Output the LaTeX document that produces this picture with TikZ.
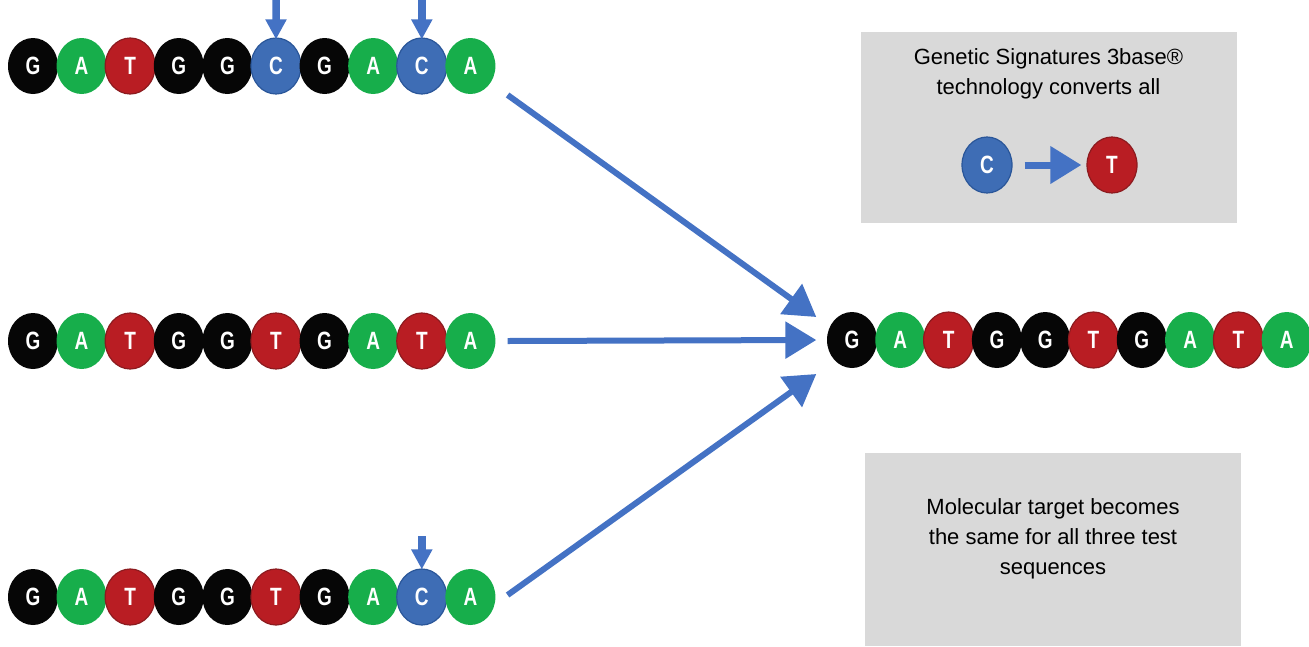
\documentclass[tikz,border=0pt]{standalone}
\usepackage{fontspec}
\setmainfont{Liberation Sans}
\newfontfamily\basefont{Liberation Sans Bold}[FakeStretch=0.76]
\usetikzlibrary{shapes.geometric,arrows.meta}

\definecolor{nblack}{HTML}{060606}
\definecolor{ngreen}{HTML}{17AE4B}
\definecolor{nred}{HTML}{B91D23}
\definecolor{nredline}{HTML}{8C1B1F}
\definecolor{nblue}{HTML}{3E6DB5}
\definecolor{nblueline}{HTML}{2A5699}
\definecolor{arrowblue}{HTML}{4472C4}
\definecolor{panelgray}{HTML}{D9D9D9}

\begin{document}
\begin{tikzpicture}[
  nuc/.style={ellipse, minimum width=50pt, minimum height=56pt, inner sep=0pt,
    text=white, font=\basefont\fontsize{25}{25}\selectfont},
  nG/.style={nuc, fill=nblack},
  nA/.style={nuc, fill=ngreen},
  nT/.style={nuc, fill=nred, draw=nredline, line width=1.2pt},
  nC/.style={nuc, fill=nblue, draw=nblueline, line width=1.2pt},
  marker/.style={arrowblue, line width=7.5pt, -{Triangle[length=20pt,width=20pt]}},
  bigarrow/.style={arrowblue, line width=6pt, -{Triangle[length=31pt,width=36pt]}},
  panel/.style={fill=panelgray, inner sep=0pt},
  note/.style={align=center, font=\fontsize{22}{30}\selectfont}]
 \def\d{48.6}
 \def\e{48.3}

 \begin{scope} [x = {(1pt,0)},
   y = {(0,-1pt)}]

  \useasboundingbox (0,0) rectangle (1309,646);

  % grey panels
  \node[panel, minimum width=376, minimum height=191] (box1) at (1048.5,127.5) {};
  \node[panel, minimum width=376, minimum height=193] (box2) at (1053,549.5) {};

  \node[note] (txt1) at (1048.5,74) {Genetic Signatures 3base\textregistered\\technology converts all};
  \node[note] (txt2) at (1053,539) {Molecular target becomes\\the same for all three test\\sequences};

  % first test sequence
  \path node[nG] (a1) at (33,66) {G}
  node[nA] (a2) at (33+\d,66) {A}
  node[nT] (a3) at (33+2*\d,66) {T}
  node[nG] (a4) at (33+3*\d,66) {G}
  node[nG] (a5) at (33+4*\d,66) {G}
  node[nC] (a6) at (33+5*\d,66) {C}
  node[nG] (a7) at (33+6*\d,66) {G}
  node[nA] (a8) at (33+7*\d,66) {A}
  node[nC] (a9) at (33+8*\d,66) {C}
  node[nA] (a10) at (33+9*\d,66) {A};

  % second test sequence
  \path node[nG] (b1) at (33,341) {G}
  node[nA] (b2) at (33+\d,341) {A}
  node[nT] (b3) at (33+2*\d,341) {T}
  node[nG] (b4) at (33+3*\d,341) {G}
  node[nG] (b5) at (33+4*\d,341) {G}
  node[nT] (b6) at (33+5*\d,341) {T}
  node[nG] (b7) at (33+6*\d,341) {G}
  node[nA] (b8) at (33+7*\d,341) {A}
  node[nT] (b9) at (33+8*\d,341) {T}
  node[nA] (b10) at (33+9*\d,341) {A};

  % third test sequence
  \path node[nG] (c1) at (33,597) {G}
  node[nA] (c2) at (33+\d,597) {A}
  node[nT] (c3) at (33+2*\d,597) {T}
  node[nG] (c4) at (33+3*\d,597) {G}
  node[nG] (c5) at (33+4*\d,597) {G}
  node[nT] (c6) at (33+5*\d,597) {T}
  node[nG] (c7) at (33+6*\d,597) {G}
  node[nA] (c8) at (33+7*\d,597) {A}
  node[nC] (c9) at (33+8*\d,597) {C}
  node[nA] (c10) at (33+9*\d,597) {A};

  % converted target
  \path node[nG] (t1) at (852,340) {G}
  node[nA] (t2) at (852+\e,340) {A}
  node[nT] (t3) at (852+2*\e,340) {T}
  node[nG] (t4) at (852+3*\e,340) {G}
  node[nG] (t5) at (852+4*\e,340) {G}
  node[nT] (t6) at (852+5*\e,340) {T}
  node[nG] (t7) at (852+6*\e,340) {G}
  node[nA] (t8) at (852+7*\e,340) {A}
  node[nT] (t9) at (852+8*\e,340) {T}
  node[nA] (t10) at (852+9*\e,340) {A};

  % C -> T legend
  \path node[nC] (cc) at (987,165) {C}
  node[nT] (ct) at (1112,165) {T};
  \draw[bigarrow, line width=7pt] ([xshift=12]cc.east) -- ([xshift=-5]ct.west);

  % markers on the C positions
  \path coordinate (m1) at (276,-2)
  coordinate (m2) at (33+8*\d,-2)
  coordinate (m3) at (33+8*\d,536);

  \draw[marker] (m1) -- ([yshift=-2]a6.north);
  \draw[marker] (m2) -- ([yshift=-2]a9.north);
  \draw[marker] (m3) -- ([yshift=-1]c9.north);

  % conversions
  \draw[bigarrow] ([shift={(12,29)}]a10.east) -- ([shift={(-10.5,-23)}]t1.west);
  \draw[bigarrow] ([xshift=12]b10.east) -- ([xshift=-10.5]t1.west);
  \draw[bigarrow] ([shift={(12,-2)}]c10.east) -- ([shift={(-10.5,34)}]t1.west);

 \end{scope}

\end{tikzpicture}
\end{document}
